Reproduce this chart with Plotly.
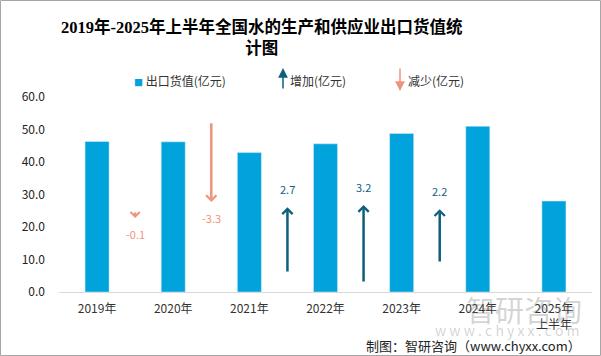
import plotly.graph_objects as go

# ---- data ----
years = ["2019年", "2020年", "2021年", "2022年", "2023年", "2024年", "2025年<br>上半年"]
export_value = [46.3, 46.2, 42.9, 45.6, 48.8, 51.0, 28.0]          # 出口货值(亿元)
changes = [-0.1, -3.3, 2.7, 3.2, 2.2]                               # 同比变化(亿元)
arrow_base = [3.18, 7.05, 0.83, 0.42, 1.25]                         # helper: arrow tail on secondary axis
y_ticks = [0, 10, 20, 30, 40, 50, 60]
title_text = "2019年-2025年上半年全国水的生产和供应业出口货值统<br>计图"

# ---- styling ----
W, H = 601, 356
ML, MR, MT, MB = 59, 9, 97, 64
PW, PH = W - ML - MR, H - MT - MB
BAR = "#00A3DB"
UP = "#0E5F7E"
DOWN = "#F0937C"
FONT = "Noto Sans CJK SC"
MIN_VIS = 0.25   # minimal drawable arrow length (secondary-axis units) so the head can render


def px_x(px):
    return (px - ML) / PW


def px_y(py):
    return (H - MB - py) / PH


fig = go.Figure()
fig.add_trace(go.Bar(x=list(range(len(years))), y=export_value, marker_color=BAR,
                     width=0.316, showlegend=False, hoverinfo="skip"))
# invisible trace to activate y2
fig.add_trace(go.Scatter(x=[0], y=[0], yaxis="y2", mode="markers",
                         marker=dict(opacity=0), showlegend=False, hoverinfo="skip"))

ann = []
for i, (c, b) in enumerate(zip(changes, arrow_base)):
    xpos = i + 0.5
    tip = b + c
    tail = b if abs(c) >= MIN_VIS else tip - (MIN_VIS if c > 0 else -MIN_VIS)
    col = UP if c > 0 else DOWN
    small = abs(c) < MIN_VIS
    ann.append(dict(x=xpos, y=tip, ax=xpos, ay=tail, xref="x", yref="y2", axref="x", ayref="y2",
                    showarrow=True, arrowhead=4, arrowsize=0.75 if small else 0.8,
                    arrowwidth=2.4 if small else 2.5, arrowcolor=col,
                    text="", font=dict(size=1), borderpad=0))
    ann.append(dict(x=xpos, y=tip, xref="x", yref="y2", showarrow=False,
                    text=f"{c:.1f}", font=dict(family=FONT, size=11, color=col),
                    yshift=18 if c > 0 else -16))

# title
ann.append(dict(x=px_x(262), y=px_y(38), xref="paper", yref="paper", xanchor="center", yanchor="middle",
                showarrow=False, text=title_text,
                font=dict(family="Liberation Serif, Noto Sans CJK SC", size=16.5, color="#000000",
                          weight="bold")))

# legend (annotations)
ann.append(dict(x=px_x(132), y=px_y(80), xref="paper", yref="paper", xanchor="left", yanchor="middle",
                showarrow=False,
                text=f'<span style="color:{BAR};font-size:9px">■</span> 出口货值(亿元)',
                font=dict(family=FONT, size=12, color="#333333")))
ann.append(dict(x=px_x(283), y=px_y(68), xref="paper", yref="paper", ax=0, ay=21,
                showarrow=True, arrowhead=2, arrowsize=1.3, arrowwidth=1.5, arrowcolor=UP,
                text="", font=dict(size=1), borderpad=0))
ann.append(dict(x=px_x(288), y=px_y(80), xref="paper", yref="paper", xanchor="left", yanchor="middle",
                showarrow=False, text="增加(亿元)", font=dict(family=FONT, size=12, color="#333333")))
ann.append(dict(x=px_x(400), y=px_y(91), xref="paper", yref="paper", ax=0, ay=-23,
                showarrow=True, arrowhead=2, arrowsize=1.3, arrowwidth=1.5, arrowcolor=DOWN,
                text="", font=dict(size=1), borderpad=0))
ann.append(dict(x=px_x(406), y=px_y(80), xref="paper", yref="paper", xanchor="left", yanchor="middle",
                showarrow=False, text="减少(亿元)", font=dict(family=FONT, size=12, color="#333333")))

# watermark
ann.append(dict(x=px_x(524), y=px_y(309), xref="paper", yref="paper", xanchor="center", yanchor="middle",
                showarrow=False, text="智研咨询",
                font=dict(family=FONT, size=29, color="rgba(120,120,120,0.33)")))
ann.append(dict(x=px_x(507), y=px_y(330), xref="paper", yref="paper", xanchor="center", yanchor="middle",
                showarrow=False, text="w w w . c h y x x . c o m",
                font=dict(family=FONT, size=14, color="rgba(120,120,120,0.33)")))

# footer
ann.append(dict(x=px_x(583), y=px_y(345), xref="paper", yref="paper", xanchor="right", yanchor="middle",
                showarrow=False, text="制图：智研咨询（www.chyxx.com）",
                font=dict(family=FONT, size=13, color="#222222")))

shapes = [dict(type="rect", xref="paper", yref="paper",
               x0=px_x(0.5), x1=px_x(600.5), y0=px_y(355.5), y1=px_y(0.5),
               line=dict(color="#A6A6A6", width=1), fillcolor="rgba(0,0,0,0)", layer="below")]

fig.update_layout(
    width=W, height=H,
    margin=dict(l=ML, r=MR, t=MT, b=MB),
    paper_bgcolor="white", plot_bgcolor="white",
    xaxis=dict(tickmode="array", tickvals=list(range(len(years))), ticktext=years,
               range=[-0.5, len(years) - 0.5], showgrid=False, zeroline=False,
               showline=True, linecolor="#D9D9D9", linewidth=1, ticks="",
               tickfont=dict(family=FONT, size=12, color="#333333"), ticklabelstandoff=6),
    yaxis=dict(range=[0, 60], tickvals=y_ticks, tickformat=".1f", showgrid=False, zeroline=False,
               showline=False, ticks="", tickfont=dict(family=FONT, size=12, color="#222222"),
               ticklabelstandoff=13),
    yaxis2=dict(range=[0, PH / 24], overlaying="y", visible=False),
    annotations=ann, shapes=shapes,
    showlegend=False,
)

fig.write_html("out.html", config={"displayModeBar": False},
               post_script="document.body.style.margin='0';document.body.style.overflow='hidden';")
